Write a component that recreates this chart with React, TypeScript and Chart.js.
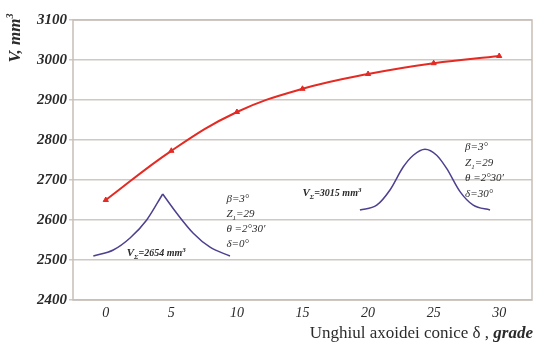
import React, { useEffect, useRef } from "react";
import { Chart, registerables } from "chart.js";

Chart.register(...registerables);

// ---- data ----
const DELTA = [0, 5, 10, 15, 20, 25, 30];
const VOLUME = [2650, 2773, 2870, 2928, 2965, 2992, 3010];
const X_TICKS = [0, 5, 10, 15, 20, 25, 30];
const Y_TICKS = [2400, 2500, 2600, 2700, 2800, 2900, 3000, 3100];

// inset profile sketches (in chart units: δ, V)
const INSET_LEFT_RISE_X = [-0.95, 0.57, 1.85, 3.12, 4.34];
const INSET_LEFT_RISE_V = [2510, 2525, 2555, 2600, 2665];
const INSET_LEFT_FALL_X = [4.34, 5.41, 6.67, 7.95, 9.47];
const INSET_LEFT_FALL_V = [2665, 2617, 2567, 2532, 2510];
const INSET_RIGHT_X = [19.38, 20.66, 21.67, 22.69, 23.45, 24.34, 25.23, 25.99, 27.01, 28.02, 29.3];
const INSET_RIGHT_V = [2625, 2637, 2675, 2733, 2762, 2777, 2762, 2729, 2671, 2637, 2625];

const SERIF = '"Liberation Serif", "DejaVu Serif", serif';
const TEXT = "#2b2b2b";
const RED = "#e42a22";
const PURPLE = "#4e3f8f";
const GRID = "#d0c8c2";

type Part = { t: string; f: string; dy?: number };

function drawParts(ctx: CanvasRenderingContext2D, x: number, y: number, parts: Part[], align: "left" | "right" | "center" = "left") {
  let w = 0;
  for (const p of parts) {
    ctx.font = p.f;
    w += ctx.measureText(p.t).width;
  }
  let cx = align === "left" ? x : align === "right" ? x - w : x - w / 2;
  ctx.textAlign = "left";
  for (const p of parts) {
    ctx.font = p.f;
    ctx.fillText(p.t, cx, y + (p.dy || 0));
    cx += ctx.measureText(p.t).width;
  }
}

const it = (s: number) => `italic ${s}px ${SERIF}`;
const bi = (s: number) => `italic bold ${s}px ${SERIF}`;

function paramLines(delta: string): Part[][] {
  return [
    [{ t: "β=3°", f: it(11) }],
    [{ t: "Z", f: it(11) }, { t: "1", f: it(7), dy: 3 }, { t: "=29", f: it(11) }],
    [{ t: "θ =2°30′", f: it(11) }],
    [{ t: "δ=" + delta + "°", f: it(11) }],
  ];
}

function vLabel(val: string): Part[] {
  return [
    { t: "V", f: bi(11) },
    { t: "Σ", f: bi(7), dy: 3 },
    { t: "=" + val + " mm", f: bi(10) },
    { t: "3", f: bi(7), dy: -4 },
  ];
}

const textPlugin = {
  id: "texts",
  beforeDatasetsDraw(chart: any) {
    const { ctx, chartArea } = chart;
    ctx.save();
    ctx.strokeStyle = "#c6bdb6";
    ctx.lineWidth = 1.5;
    ctx.strokeRect(chartArea.left, chartArea.top, chartArea.right - chartArea.left, chartArea.bottom - chartArea.top);
    ctx.restore();
  },
  afterDraw(chart: any) {
    const { ctx } = chart;
    const xs = chart.scales.x;
    const ys = chart.scales.y;
    ctx.save();
    ctx.fillStyle = TEXT;
    ctx.textBaseline = "alphabetic";

    // inset annotations
    const leftLines = paramLines("0");
    const lx = xs.getPixelForValue(9.2);
    let ly = ys.getPixelForValue(2645);
    for (const l of leftLines) {
      drawParts(ctx, lx, ly, l);
      ly += 15;
    }
    drawParts(ctx, xs.getPixelForValue(1.6), ys.getPixelForValue(2510), vLabel("2654"));

    const rightLines = paramLines("30");
    const rx = xs.getPixelForValue(27.4);
    let ry = ys.getPixelForValue(2775);
    for (const l of rightLines) {
      drawParts(ctx, rx, ry, l);
      ry += 15.5;
    }
    drawParts(ctx, xs.getPixelForValue(15.0), ys.getPixelForValue(2660), vLabel("3015"));

    // y axis title
    ctx.save();
    ctx.translate(20, 38);
    ctx.rotate(-Math.PI / 2);
    drawParts(ctx, 0, 0, [
      { t: "V, mm", f: bi(17) },
      { t: "3", f: bi(10), dy: -7 },
    ], "center");
    ctx.restore();

    // x axis title
    drawParts(ctx, 533, 338, [
      { t: "Unghiul axoidei conice δ , ", f: `17px ${SERIF}` },
      { t: "grade", f: bi(17) },
    ], "right");

    ctx.restore();
  },
};

export default function App() {
  const ref = useRef<HTMLCanvasElement | null>(null);

  useEffect(() => {
    const canvas = ref.current;
    if (!canvas) return;
    const chart = new Chart(canvas, {
      type: "line",
      data: {
        datasets: [
          {
            data: DELTA.map((d, i) => ({ x: d, y: VOLUME[i] })),
            borderColor: RED,
            backgroundColor: RED,
            borderWidth: 2,
            tension: 0.4,
            pointStyle: "triangle",
            pointRadius: 3,
            pointBorderWidth: 1,
          },
          {
            data: INSET_LEFT_RISE_X.map((d, i) => ({ x: d, y: INSET_LEFT_RISE_V[i] })),
            borderColor: PURPLE,
            borderWidth: 1.5,
            pointRadius: 0,
            cubicInterpolationMode: "monotone",
          },
          {
            data: INSET_LEFT_FALL_X.map((d, i) => ({ x: d, y: INSET_LEFT_FALL_V[i] })),
            borderColor: PURPLE,
            borderWidth: 1.5,
            pointRadius: 0,
            cubicInterpolationMode: "monotone",
          },
          {
            data: INSET_RIGHT_X.map((d, i) => ({ x: d, y: INSET_RIGHT_V[i] })),
            borderColor: PURPLE,
            borderWidth: 1.5,
            pointRadius: 0,
            cubicInterpolationMode: "monotone",
          },
        ],
      },
      options: {
        animation: false,
        responsive: false,
        maintainAspectRatio: false,
        layout: { padding: { top: 20, right: 4, left: 0, bottom: 0 } },
        plugins: { legend: { display: false }, tooltip: { enabled: false } },
        scales: {
          x: {
            type: "linear",
            min: -2.5,
            max: 32.5,
            afterBuildTicks: (s: any) => {
              s.ticks = X_TICKS.map((v) => ({ value: v }));
            },
            afterFit: (s: any) => {
              s.height = 45;
            },
            grid: { display: false },
            border: { display: false },
            ticks: {
              font: { family: SERIF, size: 14, style: "italic" },
              color: TEXT,
              padding: -3,
              maxRotation: 0,
              autoSkip: false,
              callback: (v: any) => String(v),
            },
          },
          y: {
            type: "linear",
            min: 2400,
            max: 3100,
            afterBuildTicks: (s: any) => {
              s.ticks = Y_TICKS.map((v) => ({ value: v }));
            },
            afterFit: (s: any) => {
              s.width = 73;
            },
            grid: { color: GRID, lineWidth: 1.5, tickLength: 4 },
            border: { display: false },
            ticks: {
              font: { family: SERIF, size: 15, style: "italic", weight: "bold" },
              color: TEXT,
              padding: 2,
              autoSkip: false,
              callback: (v: any) => String(v),
            },
          },
        },
      },
      plugins: [textPlugin],
    } as any);
    return () => chart.destroy();
  }, []);

  return (
    <div style={{ position: "fixed", left: 0, top: 0, width: 537, height: 345, background: "#fff" }}>
      <canvas ref={ref} width={537} height={345} style={{ display: "block", width: 537, height: 345 }} />
    </div>
  );
}
